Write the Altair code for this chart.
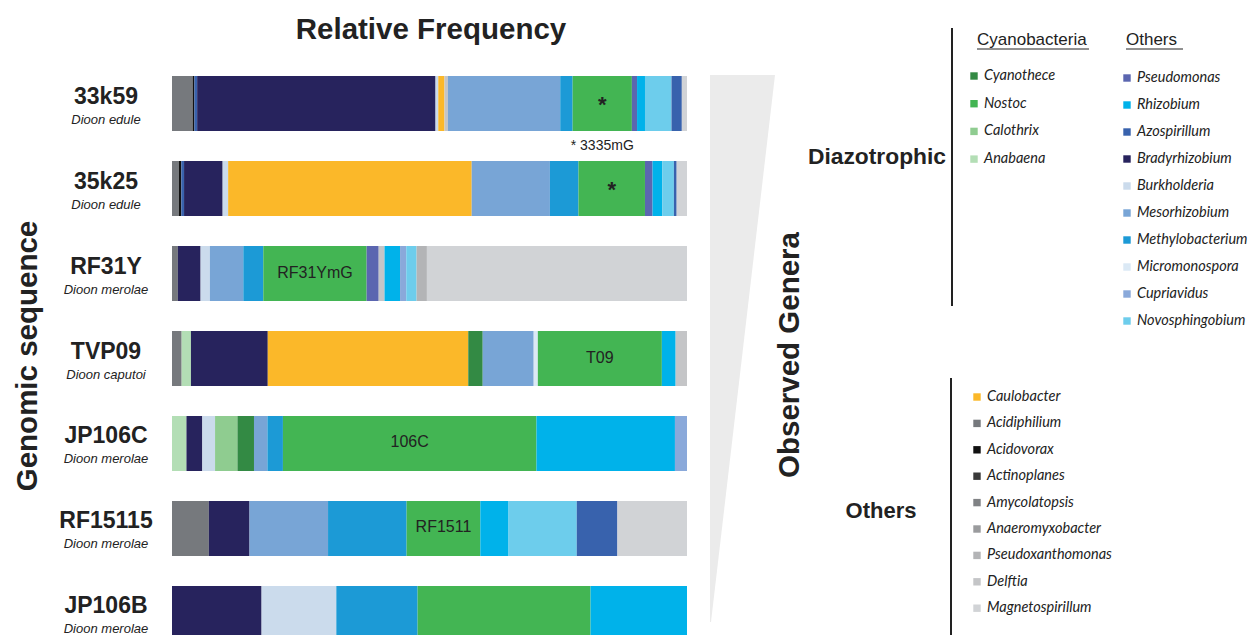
import altair as alt
import pandas as pd

# ---------------- data ----------------
samples = ["33k59", "35k25", "RF31Y", "TVP09", "JP106C", "RF15115", "JP106B"]
species = ["Dioon edule", "Dioon edule", "Dioon merolae", "Dioon caputoi",
           "Dioon merolae", "Dioon merolae", "Dioon merolae"]

g_33k59 = ["Acidiphilium", "Acidovorax", "Azospirillum", "Bradyrhizobium", "Burkholderia",
           "Caulobacter", "Delftia", "Mesorhizobium", "Methylobacterium", "Nostoc",
           "Pseudomonas", "Rhizobium", "Novosphingobium", "Azospirillum", "Magnetospirillum"]
v_33k59 = [60, 5, 8, 692, 8, 18, 10, 326, 36, 172, 15, 23, 77, 30, 15]

g_35k25 = ["Acidiphilium", "Acidovorax", "Azospirillum", "Bradyrhizobium", "Burkholderia",
           "Caulobacter", "Mesorhizobium", "Methylobacterium", "Nostoc", "Pseudomonas",
           "Rhizobium", "Novosphingobium", "Azospirillum", "Magnetospirillum"]
v_35k25 = [20, 7, 8, 112, 16, 707, 227, 83, 193, 22, 28, 34, 8, 30]

g_RF31Y = ["Acidiphilium", "Bradyrhizobium", "Burkholderia", "Mesorhizobium", "Methylobacterium",
           "Nostoc", "Pseudomonas", "Delftia", "Rhizobium", "Cupriavidus", "Novosphingobium",
           "Pseudoxanthomonas", "Magnetospirillum"]
v_RF31Y = [17, 66, 27, 97, 58, 300, 35, 17, 45, 18, 30, 30, 755]

g_TVP09 = ["Acidiphilium", "Anabaena", "Bradyrhizobium", "Caulobacter", "Cyanothece",
           "Mesorhizobium", "Micromonospora", "Nostoc", "Rhizobium", "Delftia"]
v_TVP09 = [28, 27, 223, 582, 42, 148, 12, 360, 40, 33]

g_JP106C = ["Anabaena", "Bradyrhizobium", "Burkholderia", "Calothrix", "Cyanothece",
            "Mesorhizobium", "Methylobacterium", "Nostoc", "Rhizobium", "Cupriavidus"]
v_JP106C = [42, 46, 37, 65, 48, 39, 45, 736, 402, 35]

g_RF15115 = ["Acidiphilium", "Bradyrhizobium", "Mesorhizobium", "Methylobacterium", "Nostoc",
             "Rhizobium", "Novosphingobium", "Azospirillum", "Magnetospirillum"]
v_RF15115 = [107, 118, 228, 228, 214, 82, 198, 118, 202]

g_JP106B = ["Bradyrhizobium", "Burkholderia", "Methylobacterium", "Nostoc", "Rhizobium"]
v_JP106B = [260, 217, 236, 502, 280]

row_genera = [g_33k59, g_35k25, g_RF31Y, g_TVP09, g_JP106C, g_RF15115, g_JP106B]
row_values = [v_33k59, v_35k25, v_RF31Y, v_TVP09, v_JP106C, v_RF15115, v_JP106B]

nostoc_labels = ["*", "*", "RF31YmG", "T09", "106C", "RF1511", ""]
note_33k59 = "* 3335mG"

cyano_genera = ["Cyanothece", "Nostoc", "Calothrix", "Anabaena"]
diazo_other_genera = ["Pseudomonas", "Rhizobium", "Azospirillum", "Bradyrhizobium", "Burkholderia",
                      "Mesorhizobium", "Methylobacterium", "Micromonospora", "Cupriavidus",
                      "Novosphingobium"]
other_genera = ["Caulobacter", "Acidiphilium", "Acidovorax", "Actinoplanes", "Amycolatopsis",
                "Anaeromyxobacter", "Pseudoxanthomonas", "Delftia", "Magnetospirillum"]

genus_colors = {
    "Cyanothece": "#338a44", "Nostoc": "#43b553", "Calothrix": "#8fcc90", "Anabaena": "#b3deb5",
    "Pseudomonas": "#5b66b0", "Rhizobium": "#00b2ea", "Azospirillum": "#3862ad",
    "Bradyrhizobium": "#27235d", "Burkholderia": "#cbdbec", "Mesorhizobium": "#78a5d6",
    "Methylobacterium": "#1c9ad6", "Micromonospora": "#dbe9f5", "Cupriavidus": "#8aa9da",
    "Novosphingobium": "#6dcdec", "Caulobacter": "#fbb829", "Acidiphilium": "#76797d",
    "Acidovorax": "#111111", "Actinoplanes": "#3a3a3a", "Amycolatopsis": "#808285",
    "Anaeromyxobacter": "#9a9b9d", "Pseudoxanthomonas": "#b3b4b6", "Delftia": "#c4c5c7",
    "Magnetospirillum": "#d1d3d6",
}

# ---------------- tables ----------------
rows = []
for s, gens, vals, lab in zip(samples, row_genera, row_values, nostoc_labels):
    tot = float(sum(vals))
    cum = 0.0
    for i, (g, v) in enumerate(zip(gens, vals)):
        start = cum / tot
        cum += v
        end = cum / tot
        rows.append({"sample": s, "genus": g, "order": i, "start": start, "end": end,
                     "mid": (start + end) / 2,
                     "label": lab if g == "Nostoc" else ""})
df = pd.DataFrame(rows)
df_lab = pd.DataFrame({"sample": samples, "species": species})

leg_rows = []
for i, g in enumerate(cyano_genera):
    leg_rows.append({"genus": g, "sx": 966, "tx": 976, "y": 68 + i * 27.7})
for i, g in enumerate(diazo_other_genera):
    leg_rows.append({"genus": g, "sx": 1119, "tx": 1129, "y": 70 + i * 27.0})
for i, g in enumerate(other_genera):
    leg_rows.append({"genus": g, "sx": 969, "tx": 979, "y": 389 + i * 26.4})
df_leg = pd.DataFrame(leg_rows)

domain = list(genus_colors.keys())
crange = [genus_colors[k] for k in domain]

FONT = "Liberation Sans"
xscale = alt.Scale(domain=[0, 1], range=[164, 679])
yscale = alt.Scale(domain=samples, range=[53, 648], paddingInner=0.3529, paddingOuter=0.1765)
cscale = alt.Scale(domain=domain, range=crange)

dummy = pd.DataFrame({"a": [0]})

bars = alt.Chart(df).mark_bar().encode(
    x=alt.X("start:Q", scale=xscale, axis=None),
    x2="end:Q",
    y=alt.Y("sample:N", scale=yscale, axis=None),
    color=alt.Color("genus:N", scale=cscale, legend=None),
    order="order:Q",
)

inlab = alt.Chart(df).transform_filter("datum.label != '' && datum.label != '*'").mark_text(
    font=FONT, fontSize=16, color="#222222", dy=-1
).encode(x=alt.X("mid:Q", scale=xscale, axis=None), y=alt.Y("sample:N", scale=yscale, axis=None), text="label:N")

star = alt.Chart(df).transform_filter("datum.label == '*'").mark_text(
    font=FONT, fontSize=22, fontWeight="bold", color="#222222", dy=1
).encode(x=alt.X("mid:Q", scale=xscale, axis=None), y=alt.Y("sample:N", scale=yscale, axis=None), text="label:N")

note = alt.Chart(df).transform_filter(
    alt.datum.sample == samples[0]
).transform_filter("datum.genus == 'Nostoc'").mark_text(
    font=FONT, fontSize=14, color="#222222", dy=42
).encode(x=alt.X("mid:Q", scale=xscale, axis=None), y=alt.Y("sample:N", scale=yscale, axis=None),
         text=alt.value(note_33k59))

name_txt = alt.Chart(df_lab).mark_text(
    font=FONT, fontSize=23, fontWeight="bold", color="#222222", dy=-7
).encode(x=alt.value(98), y=alt.Y("sample:N", scale=yscale, axis=None), text="sample:N")

sp_txt = alt.Chart(df_lab).mark_text(
    font=FONT, fontSize=13, fontStyle="italic", color="#222222", dy=16
).encode(x=alt.value(98), y=alt.Y("sample:N", scale=yscale, axis=None), text="species:N")

def txt(s, x, y, size, weight="normal", angle=0, align="center", style="normal", font=FONT, color="#222222"):
    return alt.Chart(dummy).mark_text(
        font=font, fontSize=size, fontWeight=weight, angle=angle, align=align,
        baseline="middle", fontStyle=style, color=color
    ).encode(x=alt.value(x), y=alt.value(y), text=alt.value(s))

def rule(x, y, x2, y2, w=1.5, color="#222222"):
    return alt.Chart(dummy).mark_rule(color=color, strokeWidth=w).encode(
        x=alt.value(x), y=alt.value(y), x2=alt.value(x2), y2=alt.value(y2))

title = txt("Relative Frequency", 423, 22, 29.5, "bold")
ylab = txt("Genomic sequence", 20, 348, 29.5, "bold", angle=270)
obs = txt("Observed Genera", 782, 347, 29.5, "bold", angle=270)
diazo = txt("Diazotrophic", 938, 149, 22.8, "bold", align="right")
others_big = txt("Others", 873, 503, 22, "bold")
h1 = txt("Cyanobacteria", 969, 32, 17, align="left")
h2 = txt("Others", 1118, 32, 17, align="left")
u1 = rule(969, 41, 1081, 41, 1)
u2 = rule(1118, 41, 1175, 41, 1)
v1 = rule(944, 20, 944, 298, 2)
v2 = rule(943, 370, 943, 640, 2)

wedge_df = pd.DataFrame({"y": [67, 614], "x": [702, 702], "x2": [767, 703]})
wedge = alt.Chart(wedge_df).mark_area(orient="horizontal", color="#ebebeb").encode(
    y=alt.Y("y:Q", scale=None), x=alt.X("x:Q", scale=None), x2="x2:Q")

leg_sq = alt.Chart(df_leg).mark_square(size=55, opacity=1).encode(
    x=alt.X("sx:Q", scale=None), y=alt.Y("y:Q", scale=None),
    color=alt.Color("genus:N", scale=cscale, legend=None))
leg_tx = alt.Chart(df_leg).mark_text(
    font="Lato", fontSize=14.5, fontStyle="italic", align="left", baseline="middle", color="#222222"
).encode(x=alt.X("tx:Q", scale=None), y=alt.Y("y:Q", scale=None), text="genus:N")

chart = alt.layer(
    wedge, bars, inlab, star, note, name_txt, sp_txt, title, ylab, obs, diazo, others_big,
    h1, h2, u1, u2, v1, v2, leg_sq, leg_tx
).properties(
    width=1244, height=627, autosize="none", padding=0
).configure_view(stroke=None)

chart.save("out.html", embed_options={"renderer": "svg", "actions": False})
